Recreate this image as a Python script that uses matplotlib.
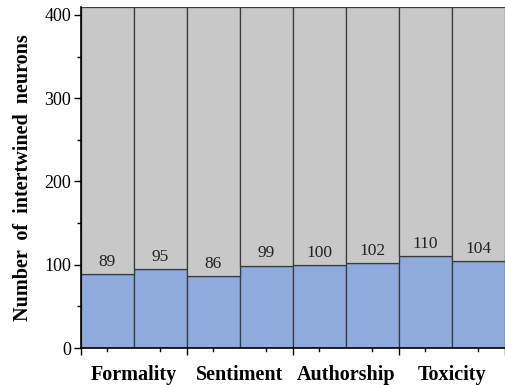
import numpy as np
import matplotlib.pyplot as plt
from matplotlib.ticker import MultipleLocator

plt.rcParams['font.family'] = ['Liberation Serif', 'DejaVu Serif']

# data
tasks = ["Formality", "Sentiment", "Authorship", "Toxicity"]
intertwined = [89, 95, 86, 99, 100, 102, 110, 104]
total = 410

x = np.arange(len(intertwined)) + 0.5
rest = [total - v for v in intertwined]

fig = plt.figure(figsize=(5.05, 3.85), dpi=100)
ax = fig.add_axes([0.160, 0.096, 0.840, 0.887])

ax.bar(x, intertwined, 1.0, color="#8faadc", edgecolor="#3a3a3a", linewidth=0.9)
ax.bar(x, rest, 1.0, bottom=intertwined, color="#c8c8c8", edgecolor="#3a3a3a", linewidth=0.9)

for xi, v in zip(x, intertwined):
    ax.text(xi, v + 5, str(v), ha="center", va="bottom", fontsize=12.5, color="#222222")

ax.set_xlim(0, len(intertwined))
ax.set_ylim(0, total)
ax.set_xticks([1, 3, 5, 7])
ax.set_xticklabels(tasks, fontsize=14.5, fontweight="bold")
ax.yaxis.set_major_locator(MultipleLocator(100))
ax.yaxis.set_minor_locator(MultipleLocator(50))
ax.tick_params(axis="y", labelsize=13, direction="out", length=5, width=1, pad=2)
ax.tick_params(axis="y", which="minor", direction="out", length=3, width=1)
# ticks at bar boundaries (minor) and bar centres, labels between pairs
ax.set_xticks(np.arange(0, 9), minor=True)
ax.tick_params(axis="x", which="major", length=0, pad=12)
ax.tick_params(axis="x", which="minor", direction="out", length=5, width=1)
for xm in x:
    ax.plot([xm, xm], [0, -4], color="black", lw=1, clip_on=False)

ax.set_ylabel("Number  of  intertwined  neurons", fontsize=14.5, fontweight="bold", labelpad=8)
ax.spines["top"].set_visible(False)
ax.spines["right"].set_visible(False)
ax.spines["left"].set_linewidth(1.2)
ax.spines["bottom"].set_linewidth(1.2)

fig.savefig("out.png", dpi=100)
